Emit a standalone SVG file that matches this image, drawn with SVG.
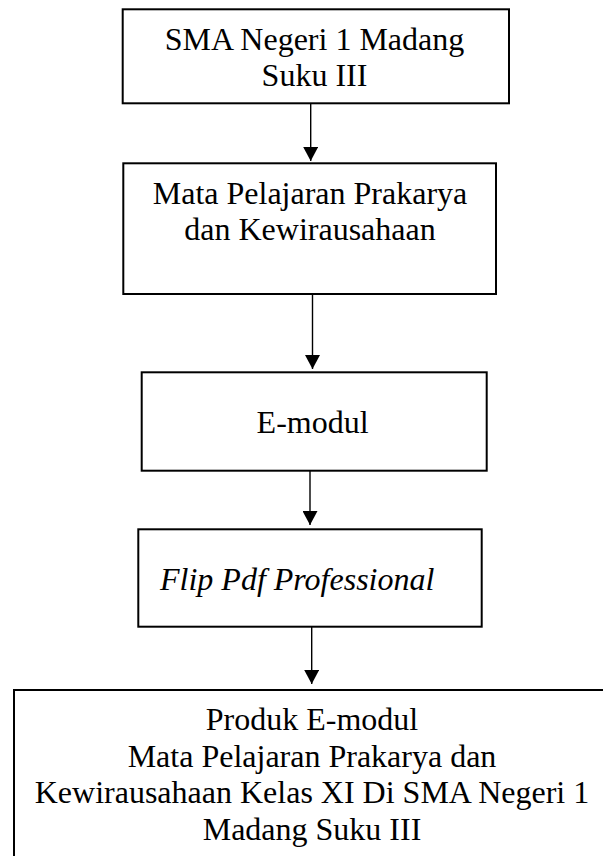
<svg xmlns="http://www.w3.org/2000/svg" width="603" height="856" viewBox="0 0 603 856">
<defs>
<style>
.box{fill:#fff;stroke:#000;stroke-width:2}
.t{font-family:"Liberation Serif","Times New Roman",serif;font-size:32px;fill:#000}
.c{text-anchor:middle}
.i{font-style:italic}
.ln{stroke:#000;stroke-width:1.4;fill:none}
</style>
<marker id="ah" viewBox="0 0 14 15" refX="14" refY="7.5" markerWidth="14" markerHeight="15" markerUnits="userSpaceOnUse" orient="auto">
<path d="M0,0 L14,7.5 L0,15 Z" fill="#000"/>
</marker>
</defs>
<rect width="603" height="856" fill="#fff"/>
<g id="connectors">
<line class="ln" x1="310.7" y1="103" x2="310.7" y2="161" marker-end="url(#ah)"/>
<line class="ln" x1="312.5" y1="294" x2="312.5" y2="369" marker-end="url(#ah)"/>
<line class="ln" x1="310" y1="471" x2="310" y2="525" marker-end="url(#ah)"/>
<line class="ln" x1="311.7" y1="627" x2="311.7" y2="684" marker-end="url(#ah)"/>
</g>
<g id="node1">
<rect class="box" x="122.7" y="9.3" width="386.3" height="94"/>
<text class="t c" x="314.5" y="49.5">SMA Negeri 1 Madang</text>
<text class="t c" x="314.5" y="86">Suku III</text>
</g>
<g id="node2">
<rect class="box" x="123.3" y="163.3" width="372.7" height="130.7"/>
<text class="t c" x="310" y="203.5">Mata Pelajaran Prakarya</text>
<text class="t c" x="310" y="240">dan Kewirausahaan</text>
</g>
<g id="node3">
<rect class="box" x="141.7" y="372.3" width="345" height="98.4"/>
<text class="t c" x="312.6" y="433.3">E-modul</text>
</g>
<g id="node4">
<rect class="box" x="138.3" y="529.3" width="343.4" height="97.4"/>
<text class="t i" x="160" y="589.5">Flip Pdf Professional</text>
</g>
<g id="node5">
<rect class="box" x="14" y="690" width="620" height="220"/>
<text class="t c" x="312" y="730">Produk E-modul</text>
<text class="t c" x="312" y="766.5">Mata Pelajaran Prakarya dan</text>
<text class="t c" x="312" y="803">Kewirausahaan Kelas XI Di SMA Negeri 1</text>
<text class="t c" x="312" y="839.5">Madang Suku III</text>
</g>
</svg>
